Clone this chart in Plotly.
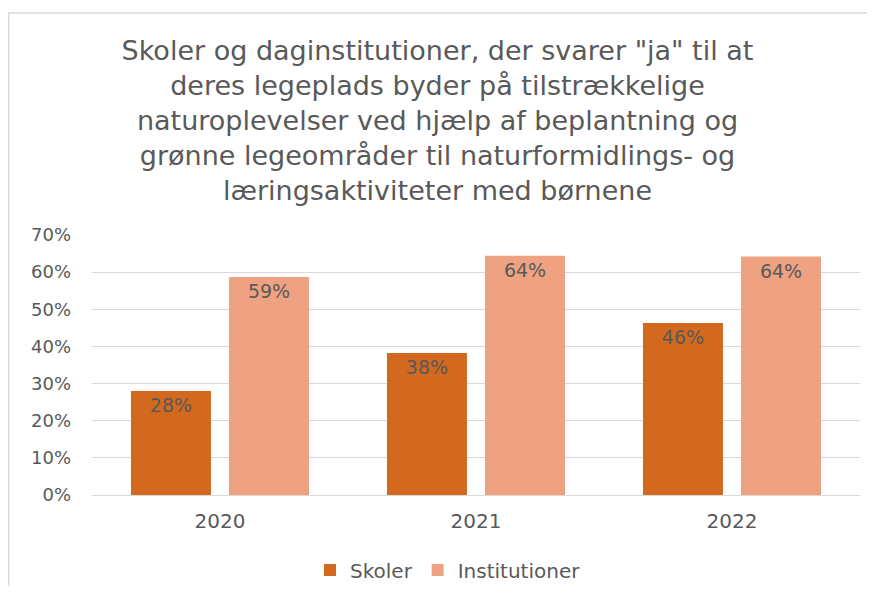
import plotly.graph_objects as go

years = ["2020", "2021", "2022"]
skoler = [0.28, 0.382, 0.463]
institutioner = [0.587, 0.644, 0.642]
tick_vals = [0, 0.1, 0.2, 0.3, 0.4, 0.5, 0.6, 0.7]
tick_text = ["0%", "10%", "20%", "30%", "40%", "50%", "60%", "70%"]

title_text = ('Skoler og daginstitutioner, der svarer "ja" til at<br>'
              'deres legeplads byder på tilstrækkelige<br>'
              'naturoplevelser ved hjælp af beplantning og<br>'
              'grønne legeområder til naturformidlings- og<br>'
              'læringsaktiviteter med børnene')

font_fam = "DejaVu Sans, sans-serif"
grey = "#595959"

fig = go.Figure()
fig.add_trace(go.Bar(
    x=years, y=skoler, name="Skoler",
    marker=dict(color="#D2691F", line=dict(width=0)),
    texttemplate="%{y:.0%}", textposition="inside", insidetextanchor="end",
    textfont=dict(size=19, color=grey, family=font_fam),
))
fig.add_trace(go.Bar(
    x=years, y=institutioner, name="Institutioner",
    marker=dict(color="#EFA281", line=dict(width=0)),
    texttemplate="%{y:.0%}", textposition="inside", insidetextanchor="end",
    textfont=dict(size=19, color=grey, family=font_fam),
))

# page body has an 8px margin: work in figure coordinates (screen - 8)
W, H = 859, 578
L, R, T, B = 84, 7, 227, 91
pw = W - L - R
ph = H - T - B

fig.update_layout(
    width=W, height=H,
    margin=dict(l=L, r=R, t=T, b=B, pad=0, autoexpand=False),
    paper_bgcolor="white", plot_bgcolor="white",
    barmode="group", bargap=0.234, bargroupgap=0.184,
    title=dict(text=title_text, x=0.5, xanchor="center", y=1 - 52 / H, yanchor="top",
               font=dict(size=27, color=grey, family=font_fam)),
    font=dict(family=font_fam, color=grey),
    showlegend=True,
    legend=dict(orientation="h", xref="container", x=(448 - 8) / W, xanchor="center",
                yref="container", y=1 - (570 - 8) / H, yanchor="middle",
                font=dict(size=20, color=grey, family=font_fam), itemwidth=30,
                traceorder="normal"),
    yaxis=dict(range=[0, 0.7], tickvals=tick_vals, ticktext=tick_text,
               showgrid=True, gridcolor="#D9D9D9", gridwidth=1.3,
               zeroline=True, zerolinecolor="#D9D9D9", zerolinewidth=1.3,
               showline=False, ticks="", ticklabelstandoff=20,
               tickfont=dict(size=18, color=grey, family=font_fam)),
    xaxis=dict(showline=False, ticks="", showgrid=False,
               tickfont=dict(size=20, color=grey, family=font_fam), ticklabelstandoff=12),
    shapes=[dict(type="rect", xref="paper", yref="paper",
                 x0=(0.7 - L) / pw, x1=(W + 20 - L) / pw,
                 y0=-(H + 20 - (T + ph)) / ph, y1=1 + (T - 5) / ph,
                 line=dict(color="#D9D9D9", width=1.3), fillcolor="rgba(0,0,0,0)", layer="below")],
)

fig.write_html("out.html")
